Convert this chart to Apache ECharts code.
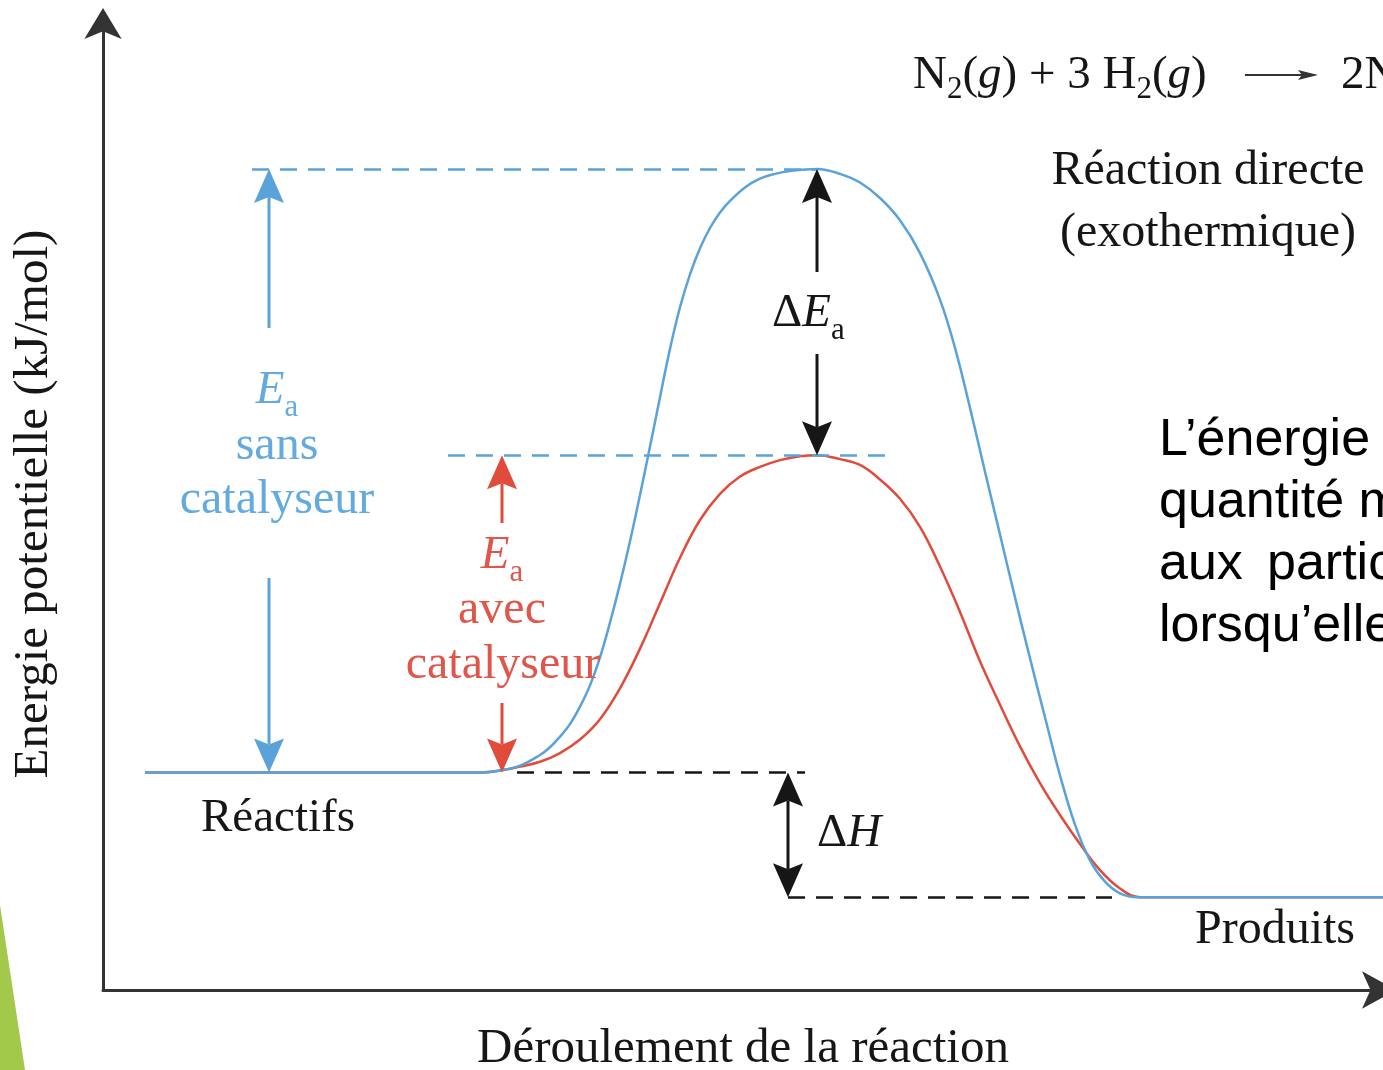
<!DOCTYPE html>
<html>
<head>
<meta charset="utf-8">
<script src="https://cdn.jsdelivr.net/npm/echarts@6/dist/echarts.min.js"></script>
<style>
  html, body { margin: 0; padding: 0; background: #ffffff; overflow: hidden; }
  #chart { width: 1383px; height: 1070px; }
</style>
</head>
<body>
<div id="chart"></div>
<script>
// Energy profile of N2 + 3 H2 -> 2 NH3, with and without a catalyst.
// x: reaction progress (arbitrary units), y: potential energy (arbitrary units)

const reactantLevel = 22.5;
const productLevel = 9.6;
const peakUncatalysed = 84.9;
const peakCatalysed = 55.3;

// path without catalyst (blue)
const uncatalysedX = [4.2, 37.7, 39.7, 41.7, 43.7, 44.7, 45.7, 46.7, 47.7, 48.7, 49.7, 50.7, 51.7, 52.7, 53.7, 54.7, 55.7,
  56.7, 57.7, 58.7, 59.7, 60.7, 61.7, 62.7, 64.2, 65.7, 67.2, 68.7, 71.4,
  73.7, 75.7, 77.7, 79.7, 81.7, 83.7, 85.2, 86.7, 88.2, 89.7, 91.2, 92.7, 94.2, 95.7, 97.2, 98.7, 100.2, 101.7, 103.5, 128];
const uncatalysedY = [22.5, 22.5, 22.7, 23.2, 24.3, 25.1, 26.2, 27.5, 29.3, 31.5, 34.4, 38.0, 42.0, 46.4, 51.2, 56.2, 61.3,
  66.3, 70.6, 74.0, 76.7, 78.8, 80.4, 81.6, 83.0, 83.9, 84.4, 84.7, 84.9,
  84.4, 83.5, 81.9, 79.6, 76.2, 71.4, 66.4, 60.2, 53.6, 47.1, 40.6, 34.3, 28.2, 22.2, 17.1, 13.4, 11.2, 10.0, 9.6, 9.6];

// path with catalyst (red)
const catalysedX = [4.2, 37.7, 39.7, 41.7, 43.7, 45.7, 47.7, 49.7, 51.7, 53.7, 55.7, 57.7, 59.7, 61.7, 63.7, 65.7, 67.7,
  69.7, 71.4,
  73.7, 75.7, 77.7, 79.7, 81.7, 83.7, 85.7, 87.7, 89.7, 91.7, 93.7, 95.7, 97.7, 99.7, 101.7, 103.7, 128];
const catalysedY = [22.5, 22.5, 22.7, 23.1, 23.6, 24.5, 25.9, 28.0, 31.2, 35.3, 40.0, 44.7, 48.6, 51.3, 53.1, 54.1, 54.8,
  55.2, 55.3,
  54.9, 54.3, 52.8, 50.8, 47.9, 43.8, 39.1, 34.0, 29.5, 25.2, 21.4, 18.1, 15.1, 12.4, 10.5, 9.6, 9.6];

const BLUE = '#5AA2DA';
const RED = '#E14B3C';
const BLUE_TXT = '#62AADF';
const RED_TXT = '#E0564A';
const INK = '#161616';
const SERIF = '"Liberation Serif", "Times New Roman", serif';
const SANS = '"Liberation Sans", Arial, sans-serif';

const zip = (xs, ys) => xs.map((x, i) => [x, ys[i]]);

// dashed reference levels: [x start, x end, level, colour]
const levelLines = [
  [14.9, 71.4, peakUncatalysed, BLUE],
  [34.5, 78.4, peakCatalysed, BLUE],
  [41.4, 70.2, reactantLevel, INK],
  [68.5, 100.9, productLevel, INK]
];

// double arrows between levels; gap = pixel span left free for the label
const arrows = [
  { x: 16.6, lo: reactantLevel, hi: peakUncatalysed, color: BLUE, gap: [328, 578] },
  { x: 39.9, lo: reactantLevel, hi: peakCatalysed, color: RED, gap: [523, 703] },
  { x: 71.4, lo: peakCatalysed, hi: peakUncatalysed, color: INK, gap: [272, 354] },
  { x: 68.5, lo: productLevel, hi: reactantLevel, color: INK, gap: null }
];

// ---- text helpers -------------------------------------------------------
const measureCtx = document.createElement('canvas').getContext('2d');
function fontOf(p) {
  return (p.it ? 'italic ' : '') + p.fs + 'px ' + (p.fam || SERIF);
}
// lay out a run of pieces on one baseline; align: 'left' | 'center'
function run(pieces, x, baseline, color, align) {
  pieces.forEach(p => { measureCtx.font = fontOf(p); p.w = measureCtx.measureText(p.t).width; });
  const total = pieces.reduce((s, p) => s + p.w, 0);
  let cx = align === 'center' ? x - total / 2 : x;
  const out = [];
  pieces.forEach(p => {
    const b = baseline + (p.dy || 0);
    out.push({
      type: 'text', x: cx, y: b - 0.34 * p.fs, silent: true, z: 10,
      style: {
        text: p.t, fill: p.color || color, font: fontOf(p),
        align: 'left', verticalAlign: 'middle', textAlign: 'left', textVerticalAlign: 'middle'
      }
    });
    cx += p.w;
  });
  return out;
}
const T = (t, fs, extra) => Object.assign({ t, fs }, extra || {});

const texts = [];
// activation energy without catalyst
texts.push(...run([T('E', 47, { it: true }), T('a', 31, { dy: 11 })], 277, 407, BLUE_TXT, 'center'));
texts.push(...run([T('sans', 48)], 277, 463, BLUE_TXT, 'center'));
texts.push(...run([T('catalyseur', 48)], 277, 517, BLUE_TXT, 'center'));
// activation energy with catalyst
texts.push(...run([T('E', 47, { it: true }), T('a', 31, { dy: 11 })], 502, 572, RED_TXT, 'center'));
texts.push(...run([T('avec', 48)], 502, 627, RED_TXT, 'center'));
texts.push(...run([T('catalyseur', 48)], 503, 682, RED_TXT, 'center'));
// difference labels
texts.push(...run([T('\u0394', 47), T('E', 47, { it: true }), T('a', 31, { dy: 11 })], 772, 330, INK, 'left'));
texts.push(...run([T('\u0394', 47), T('H', 47, { it: true })], 817, 850, INK, 'left'));
// states
texts.push(...run([T('Réactifs', 47)], 278, 835, INK, 'center'));
texts.push(...run([T('Produits', 48)], 1275, 947, INK, 'center'));
texts.push(...run([T('Réaction directe', 48)], 1208, 188, INK, 'center'));
texts.push(...run([T('(exothermique)', 48)], 1208, 250, INK, 'center'));
// equation
texts.push(...run([
  T('N', 47), T('2', 31, { dy: 8 }), T('(', 47), T('g', 47, { it: true }), T(') + 3 H', 47),
  T('2', 31, { dy: 8 }), T('(', 47), T('g', 47, { it: true }), T(')', 47)
], 913, 92, INK, 'left'));
texts.push(...run([
  T('2NH', 47), T('3', 31, { dy: 8 }), T('(', 47), T('g', 47, { it: true }), T(')', 47)
], 1341, 92, INK, 'left'));
// x-axis title
texts.push(...run([T('Déroulement de la réaction', 49)], 743, 1066, INK, 'center'));
// side paragraph
const PF = 52;
texts.push(...run([T('L’énergie d’activation est la', PF, { fam: SANS })], 1159, 458, '#000', 'left'));
texts.push(...run([T('quantité minimale d’énergie', PF, { fam: SANS })], 1159, 520, '#000', 'left'));
texts.push(...run([T('aux', PF, { fam: SANS })], 1159, 582, '#000', 'left'));
texts.push(...run([T('particules de réactifs', PF, { fam: SANS })], 1267, 582, '#000', 'left'));
texts.push(...run([T('lorsqu’elles se heurtent', PF, { fam: SANS })], 1159, 644, '#000', 'left'));

const graphics = [
  // slide decoration
  { type: 'polygon', silent: true, z: 0, shape: { points: [[0, 905], [25, 1070], [0, 1070]] }, style: { fill: '#A3C94A' } },
  // y-axis title
  {
    type: 'text', x: 34, y: 504, rotation: Math.PI / 2, silent: true, z: 10,
    style: {
      text: 'Energie potentielle (kJ/mol)', fill: INK, font: '49px ' + SERIF,
      align: 'center', verticalAlign: 'middle', textAlign: 'center', textVerticalAlign: 'middle'
    }
  },
  // equation arrow
  { type: 'line', silent: true, shape: { x1: 1245, y1: 75, x2: 1304, y2: 75 }, style: { stroke: '#333', lineWidth: 2 } },
  { type: 'polygon', silent: true, shape: { points: [[1318, 75], [1298, 70], [1302, 75], [1298, 80]] }, style: { fill: '#333' } },
  ...texts
];

const axisCommon = {
  type: 'value',
  axisTick: { show: false },
  axisLabel: { show: false },
  splitLine: { show: false }
};

const option = {
  animation: false,
  backgroundColor: '#ffffff',
  grid: { left: 103, right: 0, top: 23, bottom: 80, containLabel: false },
  xAxis: Object.assign({}, axisCommon, {
    min: 0, max: 128,
    axisLine: { show: true, symbol: ['none', 'arrow'], symbolSize: [28, 34], symbolOffset: [0, 13],
      lineStyle: { color: '#333', width: 3 } }
  }),
  yAxis: Object.assign({}, axisCommon, {
    min: 0, max: 100,
    axisLine: { show: true, symbol: ['none', 'arrow'], symbolSize: [28, 31], symbolOffset: [0, 15],
      lineStyle: { color: '#333', width: 3 } }
  }),
  graphic: graphics,
  series: [
    {
      name: 'avec catalyseur', type: 'line', data: zip(catalysedX, catalysedY),
      showSymbol: false, smooth: 0.4, z: 3, clip: false,
      lineStyle: { color: RED, width: 2.5 },
      markLine: {
        silent: true, symbol: ['none', 'none'], label: { show: false },
        lineStyle: { type: [17, 11], width: 2.5 },
        data: levelLines.map(l => [
          { coord: [l[0], l[2]], lineStyle: { color: l[3], type: [17, 11], width: 2.5 } },
          { coord: [l[1], l[2]] }
        ])
      }
    },
    {
      name: 'sans catalyseur', type: 'line', data: zip(uncatalysedX, uncatalysedY),
      showSymbol: false, smooth: 0.4, z: 4, clip: false,
      lineStyle: { color: BLUE, width: 2.5 }
    },
    {
      type: 'custom', z: 5, clip: false, silent: true,
      data: arrows.map(a => [a.x, a.lo, a.hi]),
      encode: { x: 0, y: [1, 2] },
      renderItem: (params, api) => {
        const a = arrows[params.dataIndex];
        const top = api.coord([a.x, a.hi]);
        const bot = api.coord([a.x, a.lo]);
        const x = top[0];
        const L = 34, W = 15, N = 6;
        const head = (tipY, dir) => ({
          type: 'polygon',
          shape: { points: [[x, tipY], [x + W, tipY + dir * L], [x, tipY + dir * (L - N)], [x - W, tipY + dir * L]] },
          style: { fill: a.color }
        });
        const segs = a.gap
          ? [[top[1] + L - N, a.gap[0]], [a.gap[1], bot[1] - L + N]]
          : [[top[1] + L - N, bot[1] - L + N]];
        return {
          type: 'group',
          children: [head(top[1], 1), head(bot[1], -1)].concat(segs.map(s => ({
            type: 'line', shape: { x1: x, y1: s[0], x2: x, y2: s[1] },
            style: { stroke: a.color, lineWidth: 3 }
          })))
        };
      }
    }
  ]
};

const chart = echarts.init(document.getElementById('chart'), null, { renderer: 'canvas' });
chart.setOption(option);
</script>
</body>
</html>
